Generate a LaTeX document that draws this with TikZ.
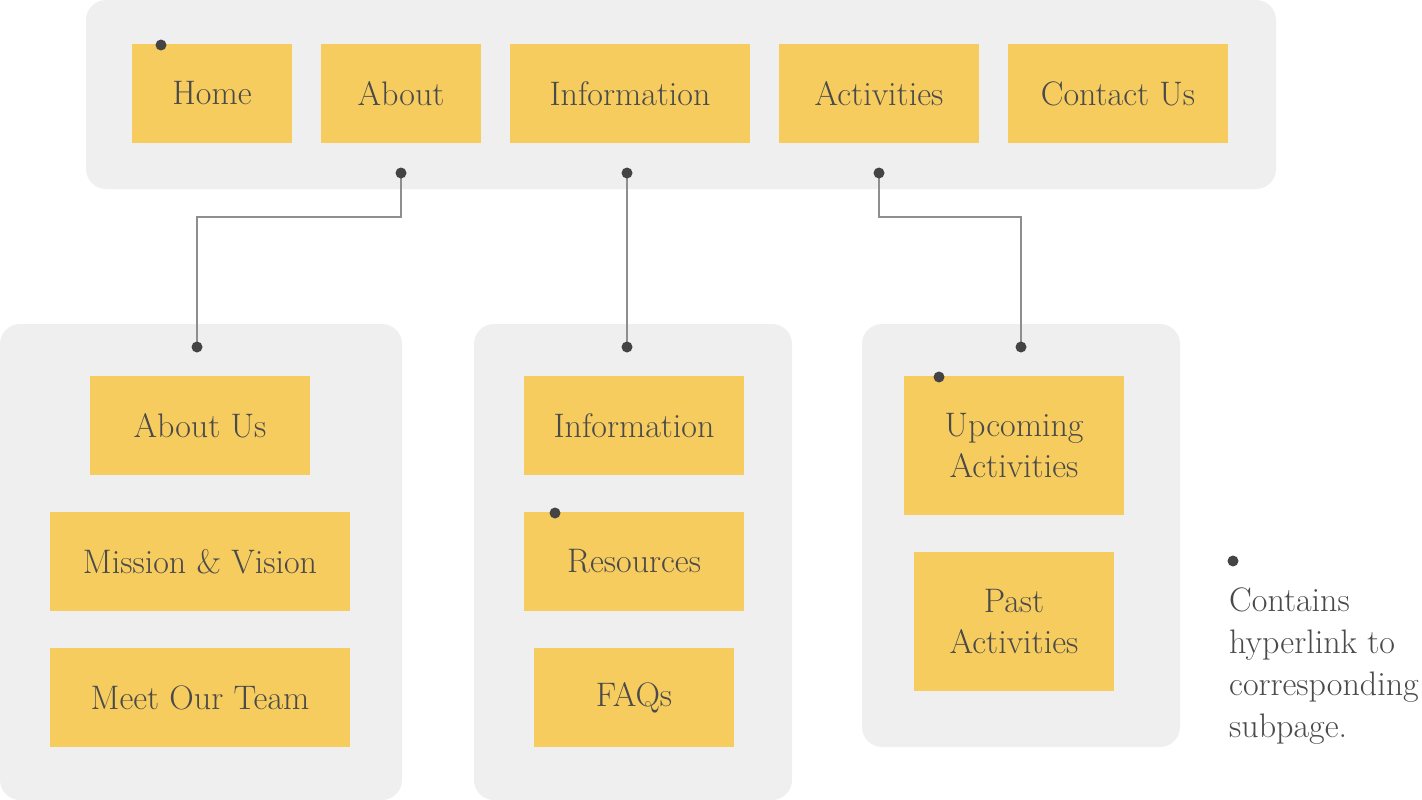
\documentclass[tikz,border=0pt]{standalone}
\usepackage{fontspec}
\definecolor{panelgray}{HTML}{EFEFEF}
\definecolor{boxyellow}{HTML}{F6CC5F}
\definecolor{txtgray}{HTML}{4A4A4A}
\definecolor{dotgray}{HTML}{444444}
\definecolor{linegray}{HTML}{8E8E8E}
\tikzset{
  panel/.style={fill=panelgray, rounded corners=20pt},
  ybox/.style={fill=boxyellow, draw=none, inner sep=0pt, text=txtgray,
    font=\fontsize{34}{41}\selectfont, align=center},
  conn/.style={draw=linegray, line width=2pt},
  hdot/.style={fill=dotgray}
}
\begin{document}
\begin{tikzpicture}[x=1pt,y=-1pt]
\useasboundingbox (0,0) rectangle (1422,800);
% panels
\fill[panel] (86,0) rectangle (1276,189);
\fill[panel] (0,324) rectangle (402,800);
\fill[panel] (474,324) rectangle (792,800);
\fill[panel] (862,324) rectangle (1180,747);
% top menu
\node[ybox, minimum width=160pt, minimum height=99pt] (home) at (212,93.5) {Home};
\node[ybox, minimum width=160pt, minimum height=99pt] (about) at (401,93.5) {About};
\node[ybox, minimum width=240pt, minimum height=99pt] (info) at (630,93.5) {Information};
\node[ybox, minimum width=200pt, minimum height=99pt] (acts) at (879,93.5) {Activities};
\node[ybox, minimum width=220pt, minimum height=99pt] (contact) at (1118,93.5) {Contact Us};
% about column
\node[ybox, minimum width=220pt, minimum height=99pt] (aboutus) at (200,425.5) {About Us};
\node[ybox, minimum width=300pt, minimum height=99pt] (mission) at (200,561.5) {Mission \& Vision};
\node[ybox, minimum width=300pt, minimum height=99pt] (team) at (200,697.5) {Meet Our Team};
% information column
\node[ybox, minimum width=220pt, minimum height=99pt] (info2) at (634,425.5) {Information};
\node[ybox, minimum width=220pt, minimum height=99pt] (res) at (634,561.5) {Resources};
\node[ybox, minimum width=200pt, minimum height=99pt] (faq) at (634,697.5) {FAQs};
% activities column
\node[ybox, minimum width=220pt, minimum height=139pt] (upc) at (1014,445.5) {Upcoming\\Activities};
\node[ybox, minimum width=200pt, minimum height=139pt] (past) at (1014,621.5) {Past\\Activities};
% connector points
\coordinate (dabout) at (401,173);
\coordinate (dinfo) at (627,173);
\coordinate (dacts) at (879,173);
\coordinate (pabout) at (197,347);
\coordinate (pinfo) at (627,347);
\coordinate (pacts) at (1021,347);
\draw[conn] (dabout) -- ++(0,44) -| (pabout);
\draw[conn] (dinfo) -- (pinfo);
\draw[conn] (dacts) -- ++(0,44) -| (pacts);
\foreach \c in {dabout,dinfo,dacts,pabout,pinfo,pacts}
  \fill[hdot] (\c) circle (5.5pt);
% hyperlink dots
\fill[hdot] (161,45) circle (5.5pt);
\fill[hdot] (555,513) circle (5.5pt);
\fill[hdot] (939,377) circle (5.5pt);
% legend
\fill[hdot] (1233,561) circle (5.5pt);
\node[anchor=north west, inner sep=0pt, text=txtgray, align=left,
  font=\fontsize{34}{42}\selectfont] (legend) at (1229,588)
  {Contains\\hyperlink to\\corresponding\\subpage.};
\end{tikzpicture}
\end{document}
